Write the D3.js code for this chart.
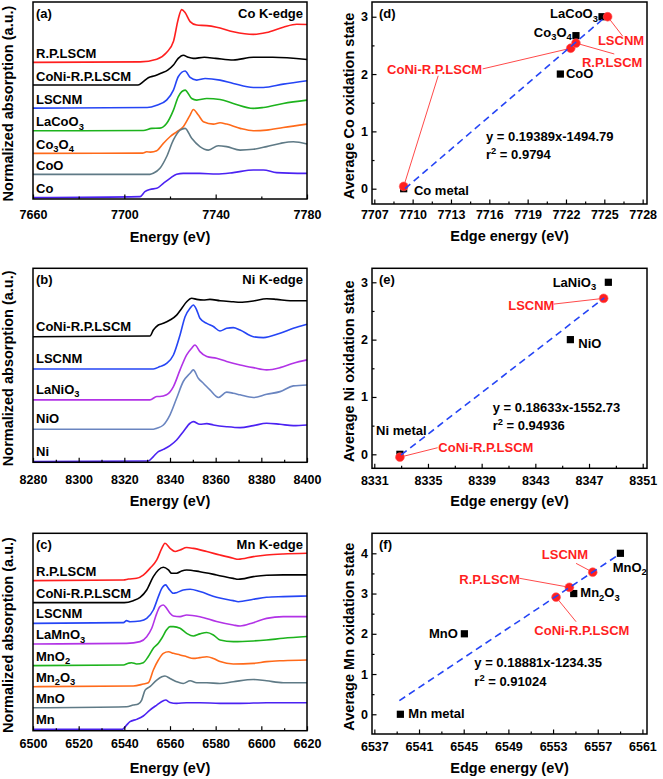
<!DOCTYPE html>
<html><head><meta charset="utf-8">
<script src="https://cdn.jsdelivr.net/npm/d3@7"></script>
<style>
body{margin:0;background:#fff}
text{font-family:"Liberation Sans",Arial,Helvetica,sans-serif;font-weight:bold}
</style>
</head><body>
<svg id="fig" width="663" height="779"></svg>
<script>
// ======================= DATA =======================
// ---- (a) Co K-edge XANES, normalized absorption (a.u.) vs energy (eV)
const coNames = ["R.P.LSCM","CoNi-R.P.LSCM","LSCNM","LaCoO_3","Co_3O_4","CoO","Co"];
const coStackOffsets = [5.125, 4.275, 3.41, 2.56, 1.71, 0.925, 0.05];
const coRP = [[7660,0],[7706.9,0.02],[7714.2,0.12],[7718.5,0.37],[7721.5,0.78],[7723.6,1.62],[7725.1,1.98],[7726.6,1.87],[7728.8,1.53],[7731.7,1.40],[7736.1,1.38],[7740.4,1.32],[7747.7,1.15],[7756.5,1.05],[7762.3,1.12],[7769.6,1.32],[7775.5,1.43],[7780,1.42]];
const coCoNi = [[7660,0],[7706,0],[7708.3,0.125],[7710.5,0.275],[7713.4,0.35],[7716,0.44],[7719,0.56],[7721.5,0.75],[7723.6,1.0],[7725.8,1.12],[7728,1.04],[7730.2,1.0],[7735,1.04],[7740,1.0],[7747.7,0.94],[7756.5,1.04],[7765,1.04],[7780,0.96]];
const coLSCNM = [[7660,0],[7710,0.025],[7714.2,0.11],[7718.5,0.3],[7721.5,0.675],[7723.6,1.175],[7726.6,1.39],[7728.8,1.15],[7731.7,1.05],[7735.4,1.11],[7741.9,1.05],[7747.7,0.925],[7756.5,0.775],[7760.9,0.775],[7769.6,0.9],[7780,1.025]];
const coLaCoO3 = [[7660,0],[7708.3,0.01],[7712,0.09],[7715.6,0.1],[7718.5,0.275],[7721.5,0.775],[7723.6,1.275],[7726.6,1.525],[7729.5,1.21],[7731.7,1.15],[7736.1,1.21],[7741.9,1.175],[7747.7,1.025],[7756.5,0.84],[7760.9,0.875],[7769.6,1.025],[7780,1.15]];
const coCo3O4 = [[7660,0],[7708,0.01],[7709.8,0.06],[7711.5,0.05],[7714.2,0.1],[7717.1,0.375],[7720,0.625],[7722.9,0.81],[7725.8,1.0],[7728.8,1.44],[7730.2,1.65],[7732.4,1.44],[7734.6,1.19],[7739,1.1],[7741.9,1.15],[7744.8,1.1],[7750.7,0.94],[7756.5,0.85],[7762.3,0.875],[7769.6,0.975],[7780,1.1]];
const coCoO = [[7660,0],[7711.2,0],[7712.7,0.04],[7715.6,0.225],[7718.5,0.66],[7721.5,1.29],[7724.4,1.66],[7726.6,1.725],[7729.5,1.35],[7733.1,1.04],[7736.8,0.91],[7741.1,1.075],[7744.8,1.04],[7750.7,0.91],[7756.5,0.94],[7762.3,1.04],[7768.2,1.16],[7774,1.225],[7780,1.14]];
const coCo = [[7660,0],[7706.9,0.04],[7709,0.225],[7711.2,0.31],[7714.2,0.35],[7717.1,0.54],[7720,0.725],[7722.9,0.875],[7725.8,0.91],[7733.1,0.91],[7740.4,0.89],[7747.7,0.94],[7756.5,1.04],[7760.9,1.04],[7766.7,0.94],[7780,0.91]];
const coXTicks = [7660,7700,7740,7780];
const coXMinor = [7680,7720,7760];

// ---- (b) Ni K-edge XANES
const niNames = ["CoNi-R.P.LSCM","LSCNM","LaNiO_3","NiO","Ni"];
const niStackOffsets = [4.71, 3.5, 2.34, 1.24, 0.025];
const niCoNi = [[8280,0],[8331.2,0.025],[8332.7,0.25],[8334.9,0.44],[8337.1,0.5],[8340,0.625],[8342.9,0.81],[8345.1,1.06],[8347.3,1.31],[8349.5,1.44],[8351.7,1.4],[8354.6,1.375],[8357.5,1.4],[8361.9,1.35],[8367.7,1.31],[8370.7,1.29],[8376.5,1.34],[8382.3,1.425],[8386.7,1.4],[8392.6,1.35],[8400,1.35]];
const niLSCNM = [[8280,0],[8332.7,0],[8335.6,0.09],[8338.5,0.21],[8341.5,0.525],[8344.4,1.275],[8346.6,1.96],[8348.8,2.275],[8350.2,2.4],[8351.7,2.21],[8353.1,1.9],[8356.1,1.71],[8359,1.59],[8361.9,1.425],[8364.8,1.525],[8367.7,1.55],[8370.7,1.46],[8376.5,1.21],[8380.9,1.175],[8388.2,1.34],[8394,1.525],[8400,1.675]];
const niLaNiO3 = [[8280,0],[8331.2,0],[8334.2,0.125],[8335.6,0.125],[8338.5,0.19],[8341.5,0.5],[8344.4,1.125],[8347.3,1.69],[8349.5,1.94],[8350.9,2.06],[8353.1,1.81],[8356.1,1.625],[8360.4,1.56],[8364.8,1.44],[8370.7,1.31],[8376.5,1.21],[8382.3,1.125],[8388.2,1.21],[8394,1.375],[8400,1.5]];
const niNiO = [[8280,0],[8332.7,0],[8334.2,0.04],[8337.1,0.16],[8340,0.54],[8342.9,1.16],[8345.8,1.79],[8348.8,2.1],[8350.2,2.225],[8352.4,1.91],[8354.6,1.725],[8357.5,1.475],[8361.2,1.19],[8364.8,1.39],[8367.7,1.35],[8370.7,1.29],[8376.5,1.19],[8382.3,1.31],[8388.2,1.41],[8394,1.625],[8400,1.66]];
const niNi = [[8280,0],[8330.5,0.025],[8332.7,0.19],[8334.9,0.375],[8337.1,0.46],[8340,0.6],[8342.9,0.81],[8345.8,1.125],[8348.8,1.44],[8350.2,1.5],[8353.1,1.4],[8356.1,1.425],[8359,1.375],[8364.8,1.31],[8370.7,1.275],[8376.5,1.35],[8382.3,1.44],[8388.2,1.4],[8394,1.35],[8400,1.375]];
const niXTicks = [8280,8300,8320,8340,8360,8380,8400];
const niXMinor = [8290,8310,8330,8350,8370,8390];

// ---- (c) Mn K-edge XANES
const mnNames = ["R.P.LSCM","CoNi-R.P.LSCM","LSCNM","LaMnO_3","MnO_2","Mn_2O_3","MnO","Mn"];
const mnStackOffsets = [5.625, 4.8, 4.025, 3.25, 2.44, 1.65, 0.86, 0.05];
const mnRP = [[6500,0],[6539.6,0.025],[6541.8,0.06],[6545.4,0.09],[6548.3,0.21],[6551.2,0.46],[6554.2,0.775],[6556.4,1.21],[6557.8,1.4],[6560,1.21],[6562.2,1.09],[6564.4,1.15],[6567.3,1.24],[6570.2,1.21],[6576.1,1.09],[6581.9,0.96],[6587.7,0.84],[6589.9,0.8],[6596.5,0.9],[6602.3,0.96],[6609.6,1.0],[6620,1.025]];
const mnCoNi = [[6500,0],[6540,0],[6543.9,0.075],[6546.9,0.2],[6549.8,0.475],[6552.7,0.975],[6554.9,1.225],[6557.1,1.325],[6559.3,1.225],[6560.7,1.1],[6562.9,1.1],[6565.1,1.19],[6567.3,1.225],[6573.1,1.16],[6580.4,1.04],[6587.7,0.91],[6589.9,0.875],[6596.5,0.975],[6602.3,1.025],[6609.6,1.04],[6620,1.04]];
const mnLSCNM = [[6500,0],[6539.6,0.025],[6541,0.1],[6542.5,0.06],[6546.9,0.09],[6549.8,0.19],[6552.7,0.5],[6554.9,1.0],[6556.4,1.31],[6558.1,1.44],[6559.3,1.31],[6561.5,1.125],[6562.9,1.15],[6565.8,1.25],[6568.8,1.275],[6573.1,1.19],[6580.4,0.975],[6587.7,0.85],[6589.9,0.81],[6596.5,0.9],[6602.3,0.975],[6609.6,1.0],[6620,1.025]];
const mnLaMnO3 = [[6500,0],[6541,0.025],[6546.9,0.09],[6549.8,0.275],[6552,0.59],[6554.2,1.15],[6555.6,1.4],[6557.1,1.46],[6558.5,1.34],[6560,1.15],[6561.5,1.05],[6564.4,1.025],[6567.3,1.09],[6573.1,1.025],[6580.4,0.84],[6587.7,0.71],[6590.7,0.675],[6596.5,0.8],[6602.3,0.96],[6609.6,1.025],[6620,1.025]];
const mnMnO2 = [[6500,0],[6539.6,0.025],[6541.8,0.09],[6543.2,0.11],[6545.4,0.06],[6548.3,0.11],[6550.5,0.34],[6552.7,0.65],[6554.9,0.84],[6556.4,1.025],[6558.5,1.34],[6560,1.46],[6561.5,1.46],[6564.4,1.4],[6567.3,1.21],[6570.2,1.11],[6573.1,1.19],[6576.1,1.24],[6579,1.15],[6581.9,0.96],[6587.7,0.9],[6596.5,0.925],[6602.3,0.96],[6609.6,1.025],[6620,1.09]];
const mnMn2O3 = [[6500,0],[6543.9,0.025],[6548.3,0.1],[6550.5,0.15],[6552.7,0.625],[6554.9,1.0],[6557.1,1.25],[6559.3,1.31],[6561.5,1.25],[6564.4,1.19],[6567.3,1.125],[6570.2,1.06],[6573.1,1.09],[6576.1,1.125],[6579,1.06],[6581.9,0.94],[6587.7,0.85],[6596.5,0.875],[6602.3,0.94],[6609.6,0.975],[6620,1.0]];
const mnMnO = [[6500,0],[6541,0.04],[6543.9,0.1],[6546.1,0.14],[6547.6,0.29],[6549.1,0.66],[6551.2,0.79],[6554.2,1.04],[6556.4,1.16],[6557.8,1.19],[6560,1.1],[6562.9,0.975],[6565.8,0.91],[6568.8,1.01],[6571.7,0.94],[6576.1,0.94],[6581.9,0.91],[6587.7,0.975],[6596.5,1.06],[6602.3,1.01],[6609.6,0.94],[6620,0.94]];
const mnMn = [[6500,0],[6539,0],[6539.6,0.025],[6541,0.16],[6542.5,0.29],[6545.4,0.375],[6548.3,0.5],[6551.2,0.725],[6554.2,0.91],[6557.1,1.075],[6558.1,1.1],[6560,1.01],[6562.9,0.975],[6567.3,1.0],[6573.1,1.0],[6581.9,0.975],[6590.7,0.975],[6602.3,1.0],[6620,1.0]];
const mnXTicks = [6500,6520,6540,6560,6580,6600,6620];
const mnXMinor = [6510,6530,6550,6570,6590,6610];

// ---- (d) Co: average oxidation state vs edge energy
const coRefNames = ["Co metal","CoO","Co_3O_4","LaCoO_3"];
const coRefEdge = [7709.3, 7721.56, 7722.78, 7724.82];
const coRefOx = [0, 2, 2.67, 3];
const coSampleNames = ["CoNi-R.P.LSCM","CoNi-R.P.LSCM","R.P.LSCM","LSCNM"];
const coSampleEdge = [7709.3, 7722.37, 7722.78, 7725.26];
const coSampleOx = [0.04, 2.45, 2.54, 3.0];
const coFitEnds = [[7709.4, 0.0],[7725.1, 3.0]];
const coFitText = ["y = 0.19389x-1494.79", "r^2 = 0.9794"];
const coEdgeTicks = [7707,7710,7713,7716,7719,7722,7725,7728];
const coOxTicks = [0,1,2,3];

// ---- (e) Ni
const niRefNames = ["Ni metal","NiO","LaNiO_3"];
const niRefEdge = [8332.91, 8345.61, 8348.44];
const niRefOx = [0, 2, 3];
const niSampleNames = ["CoNi-R.P.LSCM","LSCNM"];
const niSampleEdge = [8332.91, 8348.09];
const niSampleOx = [-0.05, 2.72];
const niFitEnds = [[8333.0, -0.01],[8348.14, 2.73]];
const niFitText = ["y = 0.18633x-1552.73", "r^2 = 0.94936"];
const niEdgeTicks = [8331,8335,8339,8343,8347,8351];
const niOxTicks = [0,1,2,3];

// ---- (f) Mn
const mnRefNames = ["Mn metal","MnO","Mn_2O_3","MnO_2"];
const mnRefEdge = [6539.33, 6545.06, 6554.85, 6559.03];
const mnRefOx = [0, 2, 3, 4];
const mnSampleNames = ["CoNi-R.P.LSCM","R.P.LSCM","LSCNM"];
const mnSampleEdge = [6553.27, 6554.46, 6556.55];
const mnSampleOx = [2.91, 3.155, 3.53];
const mnFitEnds = [[6539.24, 0.34],[6558.85, 3.96]];
const mnFitText = ["y = 0.18881x-1234.35", "r^2 = 0.91024"];
const mnEdgeTicks = [6537,6541,6545,6549,6553,6557,6561];
const mnOxTicks = [0,1,2,3,4];

// ======================= STYLE / LAYOUT =======================
const RED = "#ff1f1f", BLACK = "#000", BLUE = "#2545f5", GREEN = "#1db31d",
      ORANGE = "#ff6a1a", GRAY = "#5f7a86", PURPLE = "#4b22f2", MAGENTA = "#b233e6", STEEL = "#6a85c0";
const TICK_FS = 12.5;

const svg = d3.select("#fig");

function rich(t, str, size) {
  const parts = str.match(/[_^][0-9A-Za-z]|[^_^]+/g);
  let shift = 0;
  parts.forEach(p => {
    let txt = p, dy = 0, fs = size;
    if (p[0] === "_") { txt = p.slice(1); fs = size * 0.72; dy = 3.5; }
    else if (p[0] === "^") { txt = p.slice(1); fs = size * 0.72; dy = -5; }
    const ts = t.append("tspan").text(txt).attr("font-size", fs);
    if (dy - shift) ts.attr("dy", dy - shift);
    shift = dy;
  });
}

function frame(g, box, x, xTicks, xMinor, tickY, title, titleY, yTitle, yTitleX) {
  const ax = g.append("g").attr("transform", `translate(0,${box.y1})`)
    .call(d3.axisBottom(x).tickValues(xTicks).tickSize(-4.5).tickFormat(d3.format("d")));
  ax.select(".domain").remove();
  ax.selectAll("line").attr("stroke", "#000").attr("stroke-width", 1.2);
  ax.selectAll("text").attr("y", tickY - box.y1).attr("dy", null)
    .attr("font-size", TICK_FS).attr("fill", "#000")
    .style("font-family", '"Liberation Sans",Arial,sans-serif').style("font-weight", "bold");
  if (xMinor && xMinor.length) {
    const am = g.append("g").attr("transform", `translate(0,${box.y1})`)
      .call(d3.axisBottom(x).tickValues(xMinor).tickSize(-2.5).tickFormat(""));
    am.select(".domain").remove();
    am.selectAll("line").attr("stroke", "#000").attr("stroke-width", 1.2);
  }
  g.append("rect").attr("x", box.x0).attr("y", box.y0)
    .attr("width", box.x1 - box.x0).attr("height", box.y1 - box.y0)
    .attr("fill", "none").attr("stroke", "#000").attr("stroke-width", 1.5);
  g.append("text").attr("x", (box.x0 + box.x1) / 2).attr("y", titleY)
    .attr("text-anchor", "middle").attr("font-size", 14.5).text(title);
  const cy = (box.y0 + box.y1) / 2 + 3;
  g.append("text").attr("transform", `translate(${yTitleX},${cy}) rotate(-90)`)
    .attr("text-anchor", "middle").attr("font-size", 14.5).text(yTitle);
}

function spectraPanel(c) {
  const g = svg.append("g");
  const x = d3.scaleLinear().domain(c.xDomain).range([c.box.x0, c.box.x1]);
  const y = d3.scaleLinear().domain(c.yDomain).range([c.box.y1, c.box.y0]);
  const line = d3.line().x(d => x(d[0])).y(d => y(d[1])).curve(d3.curveMonotoneX);
  c.series.forEach((s, i) => {
    const off = c.offsets[i];
    g.append("path").datum(s.map(d => [d[0], d[1] + off]))
      .attr("d", line).attr("fill", "none").attr("stroke", c.colors[i])
      .attr("stroke-width", 1.6).attr("stroke-linejoin", "round");
    const t = g.append("text").attr("x", c.box.x0 + 3)
      .attr("y", y(off) - c.labelGap).attr("font-size", 13).attr("fill", "#000");
    rich(t, c.names[i], 13);
  });
  g.append("text").attr("x", c.box.x0 + 3).attr("y", c.box.y0 + 16).attr("font-size", 13).text(c.letter);
  g.append("text").attr("x", c.box.x1 - 4).attr("y", c.box.y0 + 16).attr("font-size", 13)
    .attr("text-anchor", "end").text(c.edge);
  frame(g, c.box, x, c.xTicks, c.xMinor, c.tickY, "Energy (eV)", c.titleY, "Normalized absorption (a.u.)", 13);
}

function scatterPanel(c) {
  const g = svg.append("g");
  const x = d3.scaleLinear().domain(c.xDomain).range([c.box.x0, c.box.x1]);
  const y = d3.scaleLinear().domain(c.yDomain).range([c.box.y1, c.box.y0]);
  c.leaders.forEach(l => {
    g.append("line").attr("x1", x(l[0][0])).attr("y1", y(l[0][1]))
      .attr("x2", x(l[1][0])).attr("y2", y(l[1][1]))
      .attr("stroke", "#ff4a4a").attr("stroke-width", 1);
  });
  g.selectAll(null).data(c.refEdge.map((e, i) => [e, c.refOx[i]])).join("rect")
    .attr("x", d => x(d[0]) - 3.6).attr("y", d => y(d[1]) - 3.6)
    .attr("width", 7.2).attr("height", 7.2).attr("fill", "#000");
  g.selectAll(null).data(c.sEdge.map((e, i) => [e, c.sOx[i]])).join("circle")
    .attr("cx", d => x(d[0])).attr("cy", d => y(d[1])).attr("r", 4.4)
    .attr("fill", RED).attr("stroke", "#ff5a5a").attr("stroke-width", 0.6);
  g.append("line").attr("x1", x(c.fit[0][0])).attr("y1", y(c.fit[0][1]))
    .attr("x2", x(c.fit[1][0])).attr("y2", y(c.fit[1][1]))
    .attr("stroke", BLUE).attr("stroke-width", 1.6).attr("stroke-dasharray", "7,4.5");
  c.labels.forEach(a => {
    const t = g.append("text").attr("x", x(a.at[0])).attr("y", y(a.at[1]))
      .attr("font-size", 13).attr("fill", a.red ? RED : "#000")
      .attr("text-anchor", a.end ? "end" : "start");
    rich(t, a.text, 13);
  });
  c.fitText.forEach((s, i) => {
    const t = g.append("text").attr("x", x(c.fitAt[0])).attr("y", y(c.fitAt[1]) + i * c.fitLine)
      .attr("font-size", 13);
    rich(t, s, 13);
  });
  g.append("text").attr("x", c.box.x0 + 7).attr("y", c.box.y0 + 16).attr("font-size", 13).text(c.letter);
  const ay = g.append("g").attr("transform", `translate(${c.box.x0},0)`)
    .call(d3.axisLeft(y).tickValues(c.yTicks).tickSize(-4.5).tickPadding(4).tickFormat(d3.format("d")));
  ay.select(".domain").remove();
  ay.selectAll("line").attr("stroke", "#000").attr("stroke-width", 1.2);
  ay.selectAll("text").attr("font-size", TICK_FS).attr("fill", "#000")
    .style("font-family", '"Liberation Sans",Arial,sans-serif').style("font-weight", "bold");
  const ym = g.append("g").attr("transform", `translate(${c.box.x0},0)`)
    .call(d3.axisLeft(y).tickValues(c.yTicks.slice(0, -1).map(v => v + 0.5)).tickSize(-2.5).tickFormat(""));
  ym.select(".domain").remove();
  ym.selectAll("line").attr("stroke", "#000").attr("stroke-width", 1.2);
  const xMinor = c.xTicks.slice(0, -1).map((v, i) => (v + c.xTicks[i + 1]) / 2);
  frame(g, c.box, x, c.xTicks, xMinor, c.tickY, "Edge energy (eV)", c.titleY, c.yTitle, 353.5);
}

// ======================= BUILD =======================
spectraPanel({
  box: {x0: 33, x1: 307, y0: 2, y1: 199}, xDomain: [7660, 7780], yDomain: [0, 7.39],
  series: [coRP, coCoNi, coLSCNM, coLaCoO3, coCo3O4, coCoO, coCo], names: coNames, offsets: coStackOffsets,
  colors: [RED, BLACK, BLUE, GREEN, ORANGE, GRAY, PURPLE], labelGap: 4.5,
  letter: "(a)", edge: "Co K-edge", xTicks: coXTicks, xMinor: coXMinor, tickY: 219, titleY: 241.5
});
spectraPanel({
  box: {x0: 33, x1: 307, y0: 268.3, y1: 462.3}, xDomain: [8280, 8400], yDomain: [0, 7.275],
  series: [niCoNi, niLSCNM, niLaNiO3, niNiO, niNi], names: niNames, offsets: niStackOffsets,
  colors: [BLACK, BLUE, MAGENTA, STEEL, PURPLE], labelGap: 6,
  letter: "(b)", edge: "Ni K-edge", xTicks: niXTicks, xMinor: niXMinor, tickY: 484.5, titleY: 506
});
spectraPanel({
  box: {x0: 33, x1: 307, y0: 533.3, y1: 730.7}, xDomain: [6500, 6620], yDomain: [0, 7.4],
  series: [mnRP, mnCoNi, mnLSCNM, mnLaMnO3, mnMnO2, mnMn2O3, mnMnO, mnMn], names: mnNames, offsets: mnStackOffsets,
  colors: [RED, BLACK, BLUE, MAGENTA, GREEN, ORANGE, GRAY, PURPLE], labelGap: 5,
  letter: "(c)", edge: "Mn K-edge", xTicks: mnXTicks, xMinor: mnXMinor, tickY: 748, titleY: 772.5
});

scatterPanel({
  box: {x0: 372, x1: 647, y0: 2, y1: 204}, xDomain: [7706.82, 7728.34], yDomain: [-0.267, 3.257],
  refEdge: coRefEdge, refOx: coRefOx, sEdge: coSampleEdge, sOx: coSampleOx, fit: coFitEnds,
  fitText: coFitText, fitAt: [7715.74, 0.84], fitLine: 18.5,
  labels: [
    {text: coRefNames[0], at: [7710.1, -0.11]},
    {text: coRefNames[1], at: [7722.0, 1.93]},
    {text: coRefNames[2], at: [7722.45, 2.65], end: true},
    {text: coRefNames[3], at: [7724.5, 2.97], end: true},
    {text: coSampleNames[0], at: [7708.0, 2.0], red: true},
    {text: coSampleNames[2], at: [7723.25, 2.13], red: true},
    {text: coSampleNames[3], at: [7724.5, 2.51], red: true}
  ],
  leaders: [
    [[7715.48, 2.09], [coSampleEdge[1], coSampleOx[1]]],
    [[7712.0, 1.97], [coSampleEdge[0], coSampleOx[0]]],
    [[7725.78, 2.35], [coSampleEdge[2], coSampleOx[2]]],
    [[7726.44, 2.66], [coSampleEdge[3], coSampleOx[3]]]
  ],
  letter: "(d)", xTicks: coEdgeTicks, yTicks: coOxTicks, tickY: 218.5, titleY: 241,
  yTitle: "Average Co oxidation state"
});
scatterPanel({
  box: {x0: 372, x1: 647, y0: 268.3, y1: 468.3}, xDomain: [8330.83, 8351.32], yDomain: [-0.244, 3.244],
  refEdge: niRefEdge, refOx: niRefOx, sEdge: niSampleEdge, sOx: niSampleOx, fit: niFitEnds,
  fitText: niFitText, fitAt: [8339.82, 0.74], fitLine: 18.5,
  labels: [
    {text: niRefNames[0], at: [8331.13, 0.34]},
    {text: niRefNames[1], at: [8346.2, 1.86]},
    {text: niRefNames[2], at: [8344.29, 2.92]},
    {text: niSampleNames[0], at: [8335.77, 0.035], red: true},
    {text: niSampleNames[1], at: [8340.98, 2.52], red: true}
  ],
  leaders: [
    [[8344.37, 2.62], [niSampleEdge[1], niSampleOx[1]]],
    [[8335.72, 0.115], [niSampleEdge[0], niSampleOx[0]]]
  ],
  letter: "(e)", xTicks: niEdgeTicks, yTicks: niOxTicks, tickY: 485, titleY: 506,
  yTitle: "Average Ni oxidation state"
});
scatterPanel({
  box: {x0: 372, x1: 647, y0: 533.3, y1: 734}, xDomain: [6536.79, 6561.41], yDomain: [-0.49, 4.497],
  refEdge: mnRefEdge, refOx: mnRefOx, sEdge: mnSampleEdge, sOx: mnSampleOx, fit: mnFitEnds,
  fitText: mnFitText, fitAt: [6545.95, 1.17], fitLine: 18.7,
  labels: [
    {text: mnRefNames[0], at: [6540.04, -0.1]},
    {text: mnRefNames[1], at: [6544.47, 1.89], end: true},
    {text: mnRefNames[2], at: [6555.44, 2.91]},
    {text: mnRefNames[3], at: [6558.34, 3.54]},
    {text: mnSampleNames[0], at: [6551.32, 1.97], red: true},
    {text: mnSampleNames[1], at: [6544.61, 3.24], red: true},
    {text: mnSampleNames[2], at: [6551.99, 3.85], red: true}
  ],
  leaders: [
    [[6555.06, 3.75], [mnSampleEdge[2], mnSampleOx[2]]],
    [[6549.98, 3.38], [mnSampleEdge[1], mnSampleOx[1]]],
    [[6555.06, 2.3], [mnSampleEdge[0], mnSampleOx[0]]]
  ],
  letter: "(f)", xTicks: mnEdgeTicks, yTicks: mnOxTicks, tickY: 750.5, titleY: 773,
  yTitle: "Average Mn oxidation state"
});
</script>
</body></html>
